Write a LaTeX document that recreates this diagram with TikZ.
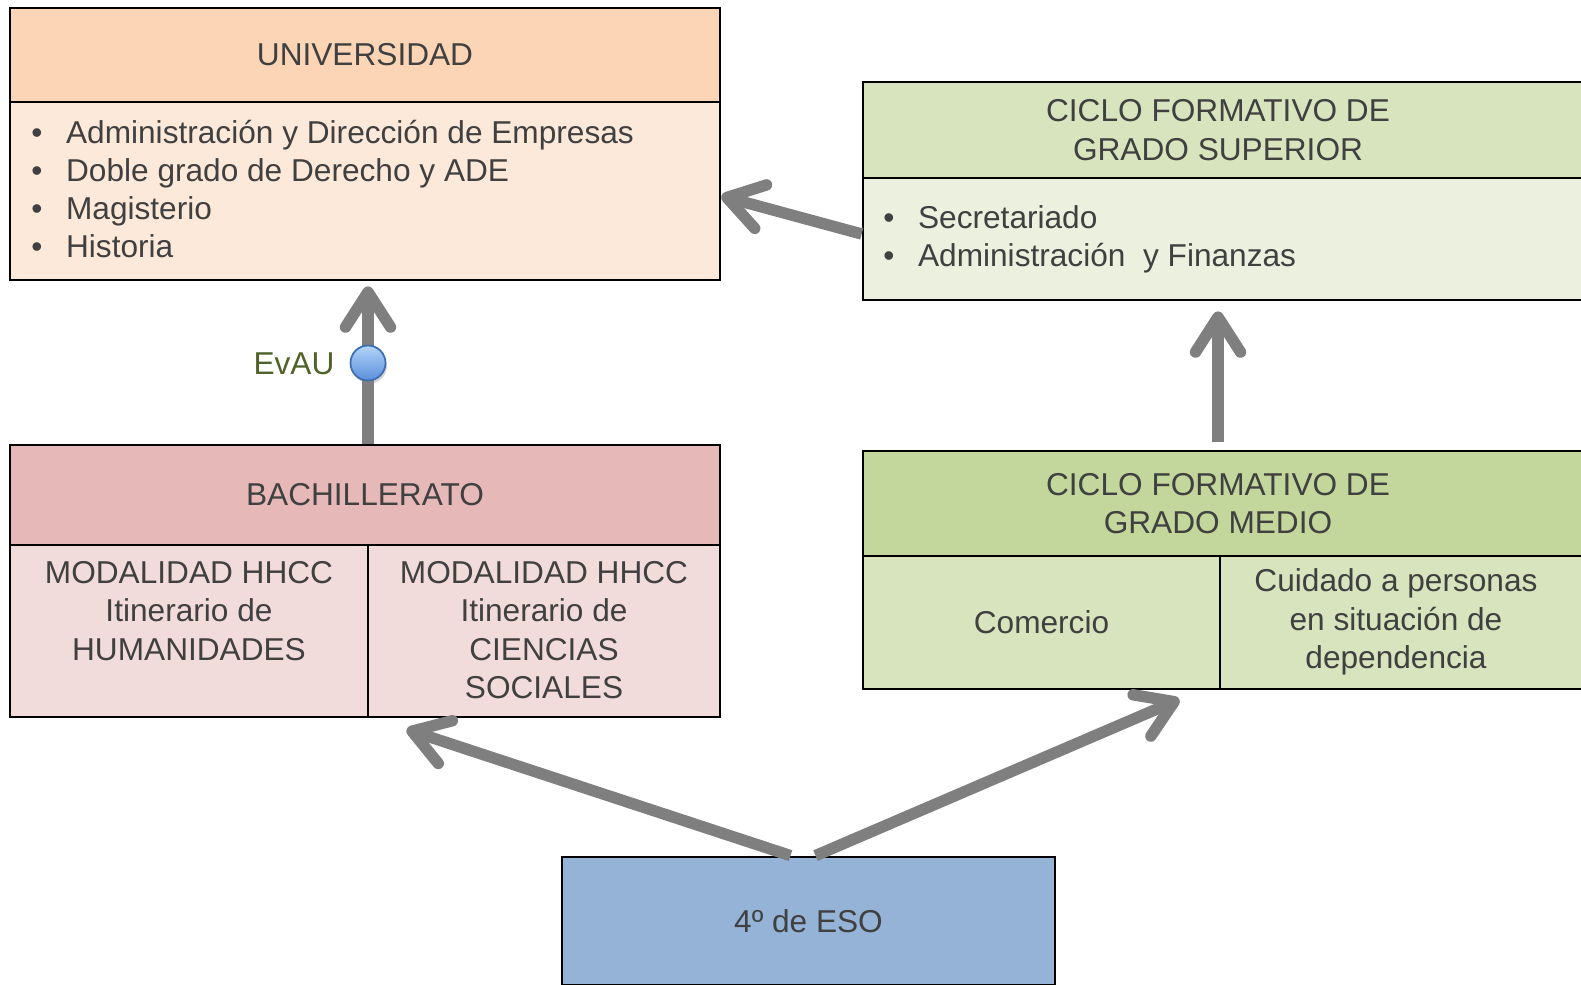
\documentclass[tikz,border=0pt]{standalone}
\usepackage{fontspec}
\setmainfont{Liberation Sans}
\usetikzlibrary{arrows.meta,shadows}
\definecolor{unihead}{HTML}{FBD5B5}
\definecolor{unibody}{HTML}{FDE9D9}
\definecolor{suphead}{HTML}{D7E4BD}
\definecolor{supbody}{HTML}{EBF1DE}
\definecolor{medhead}{HTML}{C3D69B}
\definecolor{medbody}{HTML}{D7E4BD}
\definecolor{bachhead}{HTML}{E6B9B8}
\definecolor{bachbody}{HTML}{F2DCDB}
\definecolor{esofill}{HTML}{95B3D7}
\definecolor{txtgray}{HTML}{404040}
\definecolor{flechagray}{HTML}{7F7F7F}
\definecolor{evaugreen}{HTML}{4F6228}
\definecolor{balltop}{HTML}{B4D4FA}
\definecolor{ballbot}{HTML}{5A8FDC}
\definecolor{ballborder}{HTML}{3C6EB4}
\newcommand{\itm}{\makebox[19.8pt][l]{•}}

\begin{document}
\begin{tikzpicture}
[x=0.02cm,y=-0.02cm,every node/.style={text=txtgray,font=\fontsize{18}{21.8}\selectfont,align=center},
caja/.style={draw,line width=1.6pt,inner sep=0pt},
flecha/.style={draw=flechagray,line width=6.5pt,-{Straight Barb[length=7mm,width=9mm,round]}}]
\useasboundingbox (0,0) rectangle (1581,984);
\clip (0,0) rectangle (1581,984);
% universidad
\node[caja,fill=unihead,minimum width=14.2cm,minimum height=1.88cm] (unih) at (365,55) {UNIVERSIDAD};
\node[caja,fill=unibody,minimum width=14.2cm,minimum height=3.56cm] (unib) at (365,191) {};
\node[inner sep=0pt,anchor=west,align=left] (unilist) at (31,189) {\itm Administración y Dirección de Empresas\\\itm Doble grado de Derecho y ADE\\\itm Magisterio\\\itm Historia};
% grado superior
\node[caja,fill=suphead,minimum width=14.74cm,minimum height=1.92cm] (suph) at (1231.5,130) {};
\node (supt) at (1218,130) {CICLO FORMATIVO DE\\GRADO SUPERIOR};
\node[caja,fill=supbody,minimum width=14.74cm,minimum height=2.44cm] (supb) at (1231.5,239) {};
\node[inner sep=0pt,anchor=west,align=left] (suplist) at (883,239.5) {\itm Secretariado\\\itm Administración~ y Finanzas};
% bachillerato
\node[caja,fill=bachhead,minimum width=14.2cm,minimum height=2cm] (bachh) at (365,495) {BACHILLERATO};
\node[caja,fill=bachbody,minimum width=7.16cm,minimum height=3.44cm] (hum) at (189,631) {};
\node[caja,fill=bachbody,minimum width=7.04cm,minimum height=3.44cm] (cs) at (544,631) {};
\node[inner sep=0pt,anchor=north] (humt) at (189,561) {MODALIDAD HHCC\\Itinerario de\\HUMANIDADES};
\node[inner sep=0pt,anchor=north] (cst) at (544,561) {MODALIDAD HHCC\\Itinerario de\\CIENCIAS\\SOCIALES};
% grado medio
\node[caja,fill=medhead,minimum width=14.74cm,minimum height=2.1cm] (medh) at (1231.5,503.5) {};
\node (medt) at (1218,503.5) {CICLO FORMATIVO DE\\GRADO MEDIO};
\node[caja,fill=medbody,minimum width=7.14cm,minimum height=2.66cm] (com) at (1041.5,622.5) {Comercio};
\node[caja,fill=medbody,minimum width=7.6cm,minimum height=2.66cm] (cui) at (1410,622.5) {};
\node (cuit) at (1396,622) {Cuidado a personas\\en situación de\\dependencia};
% eso
\node[caja,fill=esofill,minimum width=9.86cm,minimum height=2.56cm] (eso) at (808.5,921) {4º de ESO};
% flechas
\draw[flecha] (bachh.north -| 368,0) -- ([yshift=-0.1cm]unib.south -| 368,0);
\draw[flecha] ([yshift=0.1cm]supb.west) -- ([yshift=-0.1cm]unib.east);
\draw[flecha] ([yshift=0.16cm]medh.north -| supt) -- ([yshift=-0.2cm]supb.south -| supt);
\draw[flecha] ([xshift=-0.36cm]eso.north) -- ([xshift=0.8cm,yshift=-0.22cm]cs.south west);
\draw[flecha] ([xshift=0.14cm]eso.north) -- ([xshift=-0.84cm,yshift=-0.18cm]com.south east);
% evau
\node[circle,draw=ballborder,line width=1pt,top color=balltop,bottom color=ballbot,minimum size=0.7cm,inner sep=0pt,drop shadow={opacity=0.35,shadow xshift=0.03cm,shadow yshift=-0.06cm}] (evau) at (368,363) {};
\node[text=evaugreen] (evaut) at (294,364) {EvAU};
\end{tikzpicture}
\end{document}
